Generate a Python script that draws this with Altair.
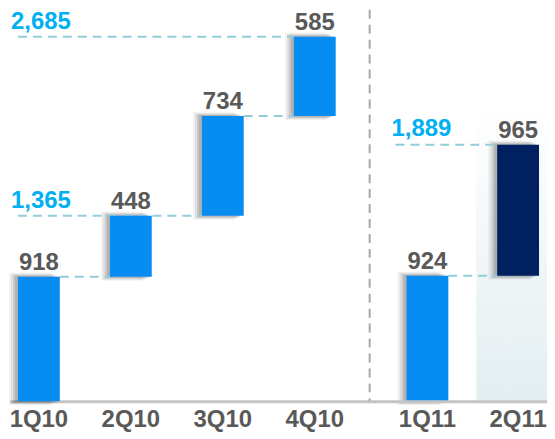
import altair as alt
import numpy as np
import pandas as pd

# ---- data ----
quarters_2010 = ["1Q10", "2Q10", "3Q10", "4Q10"]
values_2010 = [918, 448, 734, 585]
quarters_2011 = ["1Q11", "2Q11"]
values_2011 = [924, 965]
total_labels_2010 = ["1,365", "2,685"]   # running totals after 2Q10 and 4Q10
total_labels_2011 = ["1,889"]            # running total after 2Q11

BLUE = "#078cf2"
NAVY = "#002060"
CYAN = "#00B0F0"
GRAY = "#595959"
DASH = "#92CDDC"
FONT = "Liberation Sans"

YMAX = 2883
H = 393
W1, W2 = 361, 178


def waterfall(quarters, values, colors):
    ends = np.cumsum(values)
    starts = ends - np.array(values)
    return pd.DataFrame({"q": quarters, "start": starts, "end": ends,
                         "color": colors, "label": [str(v) for v in values]})


df1 = waterfall(quarters_2010, values_2010, [BLUE] * 4)
df2 = waterfall(quarters_2011, values_2011, [BLUE, NAVY])

long1 = pd.DataFrame({"q": ["1Q10", "1Q10"], "q2": ["3Q10", "4Q10"],
                      "y": [df1.end[1], df1.end[3]], "label": total_labels_2010})
short1 = pd.DataFrame({"q": ["1Q10", "3Q10"], "q2": ["2Q10", "4Q10"],
                       "y": [df1.end[0], df1.end[2]]})
long2 = pd.DataFrame({"q": ["1Q11"], "q2": ["2Q11"], "y": [df2.end[1]],
                      "label": total_labels_2011})
short2 = pd.DataFrame({"q": ["1Q11"], "q2": ["2Q11"], "y": [df2.end[0]]})
bg2 = df2[df2.q == "2Q11"]

ys = alt.Scale(domain=[0, YMAX])
axis = alt.Axis(title=None, labelAngle=0, ticks=False, grid=False,
                domainColor="#c4c4c4", domainWidth=3, labelFontSize=24,
                labelFontWeight="bold", labelColor=GRAY, labelFont=FONT,
                labelPadding=6)


def panel(df, longdf, shortdf, xs, long_shift, text_dx, text_dy, width, extra=None):
    def X(bp=None):
        if bp is None:
            return alt.X("q:N", scale=xs, axis=axis)
        return alt.X("q:N", scale=xs, axis=axis, bandPosition=bp)

    layers = []
    if extra is not None:
        layers += extra(X)
    base = alt.Chart(df)
    for off, op, grow in [(-9, 0.05, 4), (-7, 0.07, 3), (-5, 0.09, 2), (-3, 0.12, 1)]:
        layers.append(base.mark_bar(color="#000000", opacity=op, xOffset=off,
                                    yOffset=-grow, y2Offset=grow).encode(
            x=X(), y=alt.Y("end:Q", scale=ys, axis=None), y2="start:Q"))
    rule_style = dict(color=DASH, strokeWidth=2, strokeDash=[9, 6])
    layers.append(alt.Chart(longdf).mark_rule(xOffset=long_shift, **rule_style).encode(
        x=X(0), x2=alt.X2("q2", bandPosition=0),
        y=alt.Y("y:Q", scale=ys, axis=None)))
    layers.append(alt.Chart(shortdf).mark_rule(**rule_style).encode(
        x=X(1), x2=alt.X2("q2", bandPosition=0),
        y=alt.Y("y:Q", scale=ys, axis=None)))
    layers.append(base.mark_bar().encode(
        x=X(), y=alt.Y("end:Q", scale=ys, axis=None), y2="start:Q",
        color=alt.Color("color:N", scale=None)))
    layers.append(base.mark_text(font=FONT, fontSize=24, fontWeight="bold", color=GRAY,
                                 baseline="alphabetic", dy=-7).encode(
        x=X(), y=alt.Y("end:Q", scale=ys, axis=None), text="label:N"))
    layers.append(alt.Chart(longdf).mark_text(font=FONT, fontSize=24, fontWeight="bold",
                                              color=CYAN, align="left",
                                              baseline="alphabetic",
                                              dx=text_dx, dy=text_dy).encode(
        x=X(0), y=alt.Y("y:Q", scale=ys, axis=None), text="label:N"))
    return alt.layer(*layers).properties(width=width, height=H)


def right_extra(X):
    grad = alt.Gradient(gradient="linear",
                        stops=[alt.GradientStop(color="#ffffff", offset=0),
                               alt.GradientStop(color="#ffffff", offset=0.25),
                               alt.GradientStop(color="#e3eef1", offset=1)],
                        x1=0, x2=0, y1=0, y2=1)
    bg = alt.Chart(bg2).mark_rect(color=grad, xOffset=-21).encode(
        x=X(0), x2=alt.value("width"), y=alt.value(0), y2=alt.value("height"))
    sep = alt.Chart(bg2).mark_rule(color="#a8a8a8", strokeWidth=2,
                                   strokeDash=[9, 6]).encode(
        x=alt.value(0), y=alt.value(0), y2=alt.value("height"))
    return [bg, sep]


xs1 = alt.Scale(domain=quarters_2010, paddingInner=0.545, paddingOuter=0.228, align=0.19)
xs2 = alt.Scale(domain=quarters_2011, paddingInner=0.5385, paddingOuter=0.247, align=0.822)

left = panel(df1, long1, short1, xs1, 0, -7, -8, W1)
right = panel(df2, long2, short2, xs2, -11, -15, -9, W2, extra=right_extra)

chart = alt.hconcat(left, right, spacing=0, bounds="flush").resolve_scale(
    x="independent", y="shared").resolve_axis(x="independent").properties(
    padding=0, background="#ffffff").configure_view(stroke=None)

chart.save("out.html", embed_options={"renderer": "svg", "actions": False})
